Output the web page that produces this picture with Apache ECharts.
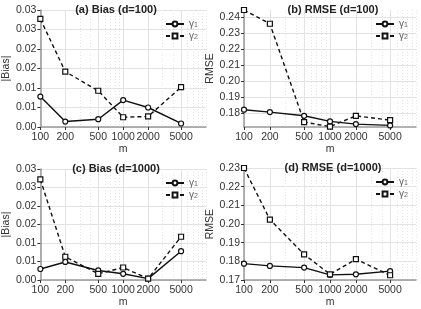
<!DOCTYPE html>
<html><head><meta charset="utf-8">
<script src="https://cdn.jsdelivr.net/npm/echarts@6/dist/echarts.min.js"></script>
<style>html,body{margin:0;padding:0;background:#fff}#c{width:421px;height:309px}</style>
</head><body><div id="c"></div>
<script>
const mValues = [100, 200, 500, 1000, 2000, 5000];
const xTickLabels = [100, 200, 500, 1000, 2000, 5000];
const xMinorGrid = [300, 400, 600, 700, 800, 900, 3000, 4000, 6000, 7000, 8000, 9000, 10000];
const biasTickLabels = ['0.00', '0.01', '0.01', '0.02', '0.02', '0.03', '0.03'];
const rmseTicksB = [0.18, 0.19, 0.20, 0.21, 0.22, 0.23, 0.24];
const titles = ['(a) Bias (d=100)', '(b) RMSE (d=100)', '(c) Bias (d=1000)', '(d) RMSE (d=1000)'];
const yNames = ['|Bias|', 'RMSE', '|Bias|', 'RMSE'];
const biasD100_g1 = [0.0078, 0.0014, 0.0020, 0.0069, 0.0050, 0.0009];
const biasD100_g2 = [0.0277, 0.0142, 0.0093, 0.0025, 0.0027, 0.0102];
const rmseD100_g1 = [0.1823, 0.1808, 0.1785, 0.1750, 0.1733, 0.1725];
const rmseD100_g2 = [0.2446, 0.2360, 0.1746, 0.1717, 0.1785, 0.1758];
const biasD1000_g1 = [0.0030, 0.0049, 0.0026, 0.0017, 0.0004, 0.0078];
const biasD1000_g2 = [0.0272, 0.0063, 0.0017, 0.0034, 0.0004, 0.0117];
const rmseD1000_g1 = [0.1788, 0.1776, 0.1767, 0.1728, 0.1731, 0.1748];
const rmseD1000_g2 = [0.2300, 0.2024, 0.1838, 0.1731, 0.1812, 0.1726];

const panelData = [
  [biasD100_g1, biasD100_g2],
  [rmseD100_g1, rmseD100_g2],
  [biasD1000_g1, biasD1000_g2],
  [rmseD1000_g1, rmseD1000_g2]
];

const grids = [
  {left: 34, top: 10, width: 172, height: 117},
  {left: 244, top: 10, width: 172, height: 117},
  {left: 34, top: 169, width: 172, height: 115},
  {left: 244, top: 168, width: 172, height: 116}
];
const FONT = 'Liberation Sans';
const chart = echarts.init(document.getElementById('c'), null, {renderer: 'canvas'});

const xAxes = [], yAxes = [], series = [], title = [], legend = [];
grids.forEach((g, i) => {
  xAxes.push({
    type: 'log', logBase: 10, gridIndex: i, min: 100, max: 10000,
    name: 'm', nameLocation: 'middle', nameGap: 16,
    nameTextStyle: {fontFamily: FONT, fontSize: 10.5, color: '#333'},
    axisLine: {show: true, lineStyle: {color: '#999', width: 1.5}},
    axisTick: {show: true, length: 3, customValues: mValues, lineStyle: {color: '#333'}},
    axisLabel: {customValues: xTickLabels, fontFamily: FONT, fontSize: 10.5, color: '#333', margin: 5,
      hideOverlap: false, formatter: (v) => String(Math.round(v))},
    splitLine: {show: true, lineStyle: {color: '#e3e3e3', width: 1}}
  });
  xAxes.push({
    type: 'log', logBase: 10, gridIndex: i, min: 100, max: 10000, position: 'bottom',
    axisLine: {show: false}, axisTick: {show: false, customValues: xMinorGrid},
    axisLabel: {show: false},
    splitLine: {show: true, lineStyle: {color: '#e6e6e6', width: 1, type: [1, 2]}}
  });
  const isBias = (i % 2 === 0);
  const y = {
    type: 'value', gridIndex: i,
    name: yNames[i], nameLocation: 'middle', nameGap: 27,
    nameTextStyle: {fontFamily: FONT, fontSize: 10.5, color: '#333'},
    axisLine: {show: true, lineStyle: {color: '#999', width: 1.5}},
    axisTick: {show: true, length: 3, lineStyle: {color: '#333'}},
    axisLabel: {fontFamily: FONT, fontSize: 10.5, color: '#333', margin: 4},
    splitLine: {show: true, lineStyle: {color: '#e3e3e3', width: 1}}
  };
  if (isBias) {
    y.min = 0; y.max = 0.03; y.interval = 0.005;
    y.axisLabel.formatter = (v) => biasTickLabels[Math.round(v / 0.005)];
  } else if (i === 1) {
    y.min = 0.1715; y.max = 0.2446;
    y.axisTick.customValues = rmseTicksB;
    y.axisLabel.customValues = rmseTicksB;
    y.axisLabel.formatter = (v) => v.toFixed(2);
  } else {
    y.min = 0.17; y.max = 0.23; y.interval = 0.01;
    y.axisLabel.formatter = (v) => v.toFixed(2);
  }
  yAxes.push(y);
  title.push({
    text: titles[i], left: g.left + g.width / 2 - (i % 2 === 0 ? 9 : 2), top: g.top - 11, textAlign: 'center',
    textStyle: {fontFamily: FONT, fontSize: 11, fontWeight: 'bold', color: '#222'}
  });
  const names = ['γ1_' + i, 'γ2_' + i];
  legend.push({
    data: names, orient: 'vertical', left: g.left + g.width - 41, top: g.top + 7, padding: 0,
    itemWidth: 18, itemHeight: 6, itemGap: 0,
    formatter: (n) => n.startsWith('γ1') ? '{g|γ}{s|1}' : '{g|γ}{s|2}',
    textStyle: {color: '#555', lineHeight: 10, rich: {
      g: {fontFamily: FONT, fontSize: 10, color: '#666', lineHeight: 10},
      s: {fontFamily: FONT, fontSize: 7, color: '#666', lineHeight: 10, verticalAlign: 'bottom', padding: [5, 0, 0, 0]}}}
  });
  [0, 1].forEach(k => {
    series.push({
      type: 'line', name: names[k], xAxisIndex: 2 * i, yAxisIndex: i,
      data: mValues.map((m, j) => [m, panelData[i][k][j]]),
      symbol: k === 0 ? 'circle' : 'rect', symbolSize: 5,
      itemStyle: {color: '#fff', borderColor: '#111', borderWidth: 1.2},
      lineStyle: {color: '#111', width: 1.4, type: k === 0 ? 'solid' : [4, 3]},
      emphasis: {disabled: true}, animation: false, z: 3
    });
  });
});

chart.setOption({
  animation: false,
  grid: grids,
  xAxis: xAxes, yAxis: yAxes, title: title, legend: legend, series: series
});
</script></body></html>
